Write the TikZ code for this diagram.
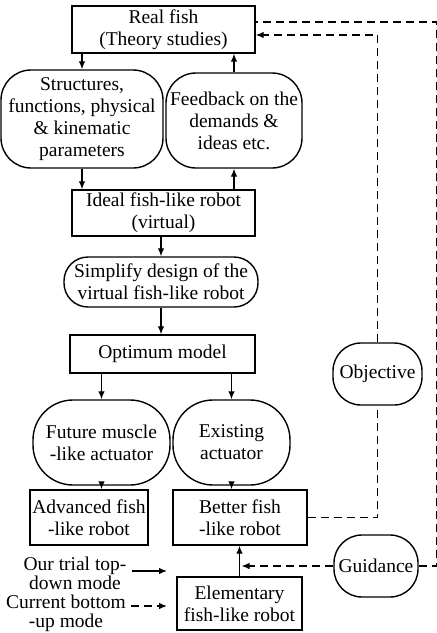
\documentclass[tikz,border=0pt]{standalone}
\usepackage{fontspec}
\setmainfont{Liberation Serif}
\usepackage{xcolor}
\usepackage{tikz}
\usetikzlibrary{arrows.meta}

\begin{document}
\begin{tikzpicture}[x=1pt,y=-1pt]
	\tikzstyle{stage}=[draw, line width=1.4pt, align=center, inner sep=0pt, font=\fontsize{19.5}{22}\selectfont]
	\tikzstyle{idea}=[stage, rounded corners=30pt]
	\tikzstyle{note}=[align=center, inner sep=0pt, font=\fontsize{19.5}{19}\selectfont]
	\tikzset{edge/.style = {->,> = {Latex[length=8pt,width=6.5pt]}, line width=1.3pt}}
	\tikzset{guide/.style = {line width=1.3pt, dash pattern=on 8pt off 5pt}}

	\fill[white] (0,0) rectangle (437,633);
	\useasboundingbox (0,0) rectangle (437,633);

	% theory side
	\node[stage, minimum width=183, minimum height=47](real) at (163.5,29.5) {Real fish\\(Theory studies)};
	\node[idea, minimum width=162, minimum height=98](struct) at (82,119) {Structures,\\functions, physical\\\& kinematic\\parameters};
	\node[idea, minimum width=136, minimum height=95](feed) at (234,120.5) {Feedback on the\\demands \&\\ideas etc.};
	\node[stage, minimum width=183, minimum height=46](ideal) at (163.5,213) {Ideal fish-like robot\\(virtual)};
	\draw[edge](real.south -| struct.north) -- (struct.north);
	\draw[edge](feed.north) -- (feed.north |- real.south);
	\draw[edge](struct.south) -- (struct.south |- ideal.north);
	\draw[edge](ideal.north -| feed.south) -- (feed.south);

	% design
	\node[idea, rounded corners=24pt, minimum width=194, minimum height=50](simp) at (161,282) {Simplify design of the\\virtual fish-like robot};
	\node[stage, minimum width=185, minimum height=38](optimum) at (162.5,354) {Optimum model};
	\draw[edge](simp.north |- ideal.south) -- (simp.north);
	\draw[edge](simp.south) -- (simp.south |- optimum.north);

	% actuators + robots
	\node[idea, rounded corners=40pt, minimum width=137, minimum height=85](future) at (101.5,442.5) {Future muscle\\-like actuator};
	\node[idea, rounded corners=40pt, minimum width=117, minimum height=85](exist) at (231.5,442.5) {Existing\\actuator};
	\node[stage, minimum width=118, minimum height=55](advanced) at (89,517.5) {Advanced fish\\-like robot};
	\node[stage, minimum width=134, minimum height=55](better) at (240,517.5) {Better fish\\-like robot};
	\node[stage, minimum width=125, minimum height=53](elem) at (239.5,603.5) {Elementary\\fish-like robot};
	\draw[edge](optimum.south -| future.north) -- (future.north);
	\draw[edge](optimum.south -| exist.north) -- (exist.north);
	\draw[edge](future.south) -- (future.south |- advanced.north);
	\draw[edge](exist.south) -- (exist.south |- better.north);
	\draw[edge](elem.north) -- (elem.north |- better.south);

	% objective + guidance loops
	\node[idea, rounded corners=28pt, minimum width=89, minimum height=62](objective) at (377.5,374) {Objective};
	\node[idea, rounded corners=28pt, minimum width=84, minimum height=62](guidance) at (376,566) {Guidance};
	\coordinate (far) at (437,22);
	\draw[guide](better.east) -| (objective.south);
	\draw[guide, edge](objective.north) |- ([yshift=-5.5pt]real.east);
	\draw[guide, edge, shorten >=2pt](guidance.west) -- (guidance.west -| elem.north);
	\draw[guide](guidance.east) -| (far) -- (far -| real.east);

	% modes
	\node[note](trial) at (75,573) {Our trial top-\\down mode};
	\node[note](current) at (66,613) {Current bottom\\-up mode};
	\coordinate (trialtip) at (167,571);
	\coordinate (currenttip) at (167,606);
	\draw[edge, shorten <=5pt](trial.east |- trialtip) -- (trialtip);
	\draw[edge, guide, shorten <=5pt](current.east |- currenttip) -- (currenttip);
\end{tikzpicture}
\end{document}
